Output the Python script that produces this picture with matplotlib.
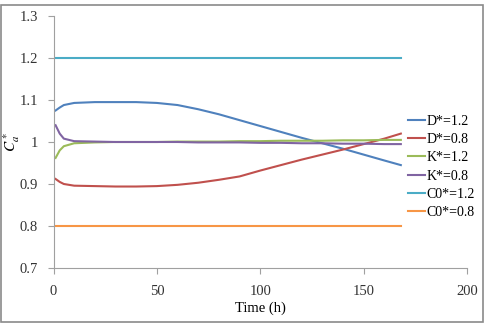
import matplotlib.pyplot as plt
import matplotlib.patches as patches

plt.rcParams['font.family'] = ['Liberation Serif', 'DejaVu Serif']
plt.rcParams['mathtext.fontset'] = 'stix'

# time points (h) and curves
t = [1, 3, 5, 10, 20, 30, 40, 50, 60, 70, 80, 90, 100, 110, 120, 130, 140, 150, 160, 168]

d_high = [1.075, 1.082, 1.088, 1.093, 1.095, 1.095, 1.095, 1.093, 1.088, 1.078, 1.066, 1.052,
          1.038, 1.024, 1.010, 0.997, 0.984, 0.970, 0.956, 0.945]
d_low = [0.912, 0.905, 0.900, 0.896, 0.895, 0.894, 0.894, 0.895, 0.898, 0.903, 0.910, 0.918,
         0.932, 0.945, 0.958, 0.970, 0.982, 0.995, 1.008, 1.020]
k_high = [0.962, 0.980, 0.990, 0.997, 0.999, 1.000, 1.000, 1.000, 1.001, 1.001, 1.001, 1.002,
          1.002, 1.003, 1.003, 1.003, 1.004, 1.004, 1.005, 1.005]
k_low = [1.040, 1.020, 1.008, 1.002, 1.001, 1.000, 1.000, 1.000, 1.000, 0.999, 0.999, 0.999,
         0.998, 0.998, 0.997, 0.997, 0.996, 0.996, 0.995, 0.995]
c0_high = [1.2] * len(t)
c0_low = [0.8] * len(t)

series = [
    ("D*=1.2", d_high, '#4F81BD'),
    ("D*=0.8", d_low, '#C0504D'),
    ("K*=1.2", k_high, '#9BBB59'),
    ("K*=0.8", k_low, '#8064A2'),
    ("C0*=1.2", c0_high, '#4BACC6'),
    ("C0*=0.8", c0_low, '#F79646'),
]

fig = plt.figure(figsize=(4.86, 3.25), dpi=100)
ax = fig.add_axes([53.5 / 486, 1 - 268 / 325, (467 - 53.5) / 486, (268 - 16) / 325])

for label, y, color in series:
    ax.plot(t, y, color=color, lw=1.5, label=label)

ax.set_xlim(0, 200)
ax.set_ylim(0.7, 1.3)
ax.set_xticks([0, 50, 100, 150, 200])
ax.set_yticks([0.7, 0.8, 0.9, 1.0, 1.1, 1.2, 1.3])
ax.set_yticklabels(['0.7', '0.8', '0.9', '1', '1.1', '1.2', '1.3'])
ax.tick_params(labelsize=10.5, color='#a0a0a0', length=4, labelcolor='#333333')
ax.tick_params(axis='x', pad=8)
ax.tick_params(axis='y', pad=7)

for side in ['top', 'right']:
    ax.spines[side].set_visible(False)
for side in ['left', 'bottom']:
    ax.spines[side].set_color('#a0a0a0')

ax.set_xlabel("Time (h)", fontsize=10.5, labelpad=3)
ax.set_ylabel(r"$C_a^*$", fontsize=11)
ax.yaxis.set_label_coords(-0.075, 0.5)

leg = ax.legend(loc='upper left', bbox_to_anchor=(0.845, 0.63), frameon=False,
                fontsize=10, handlelength=1.2, handletextpad=0.1,
                labelspacing=0.38, borderaxespad=0)

# outer chart border
fig.patches.append(patches.Rectangle((1 / 486, 3 / 325), 482 / 486, 317 / 325,
                                     transform=fig.transFigure, fill=False,
                                     edgecolor='#8a8a8a', lw=1.2))

fig.savefig('out.png', dpi=100)
